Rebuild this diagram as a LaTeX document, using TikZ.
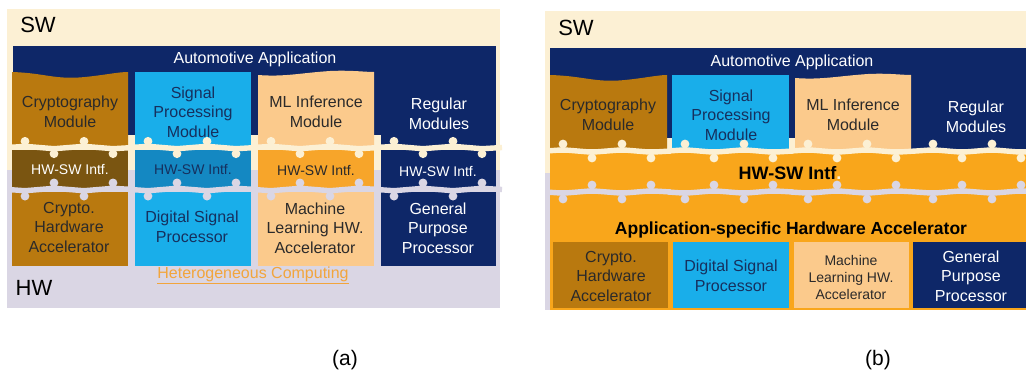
\documentclass[tikz,border=0pt]{standalone}
\usepackage{fontspec}
\setmainfont{Liberation Sans}

\definecolor{swbg}{HTML}{FCF0D4}
\definecolor{hwbg}{HTML}{DAD6E4}
\definecolor{navy}{HTML}{0E2768}
\definecolor{cryptoC}{HTML}{B9790F}
\definecolor{cryptoI}{HTML}{7A5511}
\definecolor{sigC}{HTML}{19AEEA}
\definecolor{sigI}{HTML}{1488C2}
\definecolor{mlC}{HTML}{FBCA8C}
\definecolor{mlI}{HTML}{F7A52A}
\definecolor{accel}{HTML}{F9A61B}
\definecolor{hetero}{HTML}{F2A53C}
\definecolor{darktxt}{HTML}{2B2A2A}
\definecolor{sigtxt}{HTML}{16305E}

\newcommand\fs[2]{\fontsize{#1}{#2}\selectfont}

% one jigsaw seam under a column: left x, seam y, colour, side of the first knob (-1 up, 1 down), knob offset
\newcommand\puzzle[5]{%
  \draw[#3, line width=5.4pt, line join=round]
    (#1-4,#2) -- (#1+13,{#2+(#4)*1.2}) -- (#1+42,{#2-(#4)*1.2})
    -- (#1+72,{#2+(#4)*1.2}) -- (#1+101,{#2-(#4)*1.2}) -- (#1+121,#2);
  \foreach \kx/\ks in {13/1,42/-1,72/1,101/-1} {
    \fill[#3] ({#1+\kx-2.2},#2) rectangle ({#1+\kx+2.2},{#2+(#4)*\ks*(#5-2)});
    \fill[#3] ({#1+\kx},{#2+(#4)*\ks*#5}) circle (4.4pt);
  }}
% the flat seam band running right across a panel
\newcommand\seamband[4]{\fill[#4] (#1,#3-2) rectangle (#2,#3+2);}

\tikzset{
  lab/.style={align=center, inner sep=0pt, font=\fs{16}{19.5}, text=darktxt},
  labw/.style={lab, text=white},
  labs/.style={lab, text=sigtxt},
  intf/.style={align=center, inner sep=0pt, font=\fs{14}{16}},
  big/.style={inner sep=0pt, font=\fs{22}{24}, text=black},
  captxt/.style={inner sep=0pt, font=\fs{21}{24}, text=black},
}

\begin{document}
\begin{tikzpicture}[x=1pt,y=-1pt]
\useasboundingbox (0,0) rectangle (1026,376);
\fill[white] (0,0) rectangle (1026,376);

% ---------------- panel (a): heterogeneous computing ----------------
\fill[swbg] (7,9) rectangle (500,170);
\fill[hwbg] (7,170) rectangle (500,308);
\fill[navy] (13,46) rectangle (496,135);
\fill[navy] (381,70) rectangle (496,266);

% cryptography column
\fill[cryptoC] (12,72) .. controls (45,73) and (55,80) .. (85,77)
  .. controls (105,75) and (118,72) .. (128,72) -- (128,147.5) -- (12,147.5) -- cycle;
\fill[cryptoI] (12,147.5) rectangle (128,189.5);
\fill[cryptoC] (12,189.5) rectangle (128,266);
% signal processing column
\fill[sigC] (135,72) rectangle (251,147.5);
\fill[sigI] (135,147.5) rectangle (251,189.5);
\fill[sigC] (135,189.5) rectangle (251,266);
% machine learning column
\fill[mlC] (258,75) .. controls (285,77) and (300,73) .. (330,71)
  .. controls (350,70) and (365,72) .. (374,72) -- (374,147.5) -- (258,147.5) -- cycle;
\fill[mlI] (258,147.5) rectangle (374,189.5);
\fill[mlC] (258,189.5) rectangle (374,266);

% interface seams
\seamband{7}{500}{147.5}{swbg}
\seamband{12}{496}{189.5}{hwbg}
\foreach \base in {12,135,258,381} {
  \puzzle{\base}{147.5}{swbg}{-1}{6.2}
  \puzzle{\base}{189.5}{hwbg}{1}{6.6}
}

\node[big] (swa) at (38,25) {SW};
\node[big] (hwa) at (34,288) {HW};
\node[labw] (appa) at (255,59) {Automotive Application};

\node[lab]  (cryptoa) at (70,112)  {Cryptography\\Module};
\node[labs] (siga)    at (193,112) {Signal\\Processing\\Module};
\node[lab]  (mla)     at (316,112) {ML Inference\\Module};
\node[labw] (rega)    at (439,114) {Regular\\Modules};

\node[intf, text=white]  (ia1) at (70,169.5)  {HW-SW Intf.};
\node[intf, text=sigtxt] (ia2) at (193,169.5) {HW-SW Intf.};
\node[intf, text=darktxt](ia3) at (316,170) {HW-SW Intf.};
\node[intf, text=white]  (ia4) at (438,171) {HW-SW Intf.};

\node[lab]  (hwcra) at (69,227)  {Crypto.\\Hardware\\Accelerator};
\node[labs] (dspa)  at (192,227) {Digital Signal\\Processor};
\node[lab]  (mlhwa) at (315,228) {Machine\\Learning HW.\\Accelerator};
\node[labw] (gppa)  at (438,228) {General\\Purpose\\Processor};

\node[inner sep=0pt, font=\fs{16}{18}, text=hetero] (het) at (253,275)
  {\underline{Heterogeneous Computing}};

% ---------------- panel (b): application-specific accelerator ----------------
\fill[swbg] (545,11) rectangle (1026,173);
\fill[hwbg] (545,173) rectangle (1026,310);
\fill[navy] (550,48) rectangle (1026,138);
\fill[navy] (911,70) rectangle (1026,151);
\fill[accel] (550,151) rectangle (1026,310);

\fill[cryptoC] (550,75) .. controls (585,76) and (595,83) .. (625,80)
  .. controls (645,78) and (658,75) .. (667,75) -- (667,151) -- (550,151) -- cycle;
\fill[sigC] (672,75) rectangle (789,151);
\fill[mlC] (795,78) .. controls (822,80) and (838,76) .. (868,74)
  .. controls (888,73) and (902,75) .. (911,75) -- (911,151) -- (795,151) -- cycle;

\seamband{550}{1026}{151}{swbg}
\seamband{550}{1026}{192}{hwbg}
\foreach \base in {550,672,795,920} {
  \puzzle{\base}{151}{swbg}{-1}{7}
  \puzzle{\base}{192}{hwbg}{1}{7}
}

\fill[cryptoC] (553,242) rectangle (668,308);
\fill[sigC] (673,242) rectangle (789,308);
\fill[mlC] (794,242) rectangle (909,308);
\fill[navy] (913,242) rectangle (1026,308);

\node[big] (swb) at (576,28) {SW};
\node[labw] (appb) at (792,62) {Automotive Application};

\node[lab]  (cryptob) at (608,115) {Cryptography\\Module};
\node[labs] (sigb)    at (731,115) {Signal\\Processing\\Module};
\node[lab]  (mlb)     at (853,115) {ML Inference\\Module};
\node[labw] (regb)    at (976,117) {Regular\\Modules};

\node[inner sep=0pt, font=\bfseries\fs{18}{20}, text=black] (intfb) at (790,173)
  {HW-SW Intf\textcolor{swbg}{.}};
\node[inner sep=0pt, font=\bfseries\fs{17.5}{20}, text=black] (asha) at (791,230)
  {Application-specific Hardware Accelerator};

\node[lab]  (hwcrb) at (611,276) {Crypto.\\Hardware\\Accelerator};
\node[labs] (dspb)  at (731,276) {Digital Signal\\Processor};
\node[lab, font=\fs{14}{17}] (mlhwb) at (851,277) {Machine\\Learning HW.\\Accelerator};
\node[labw] (gppb)  at (971,276) {General\\Purpose\\Processor};

% ---------------- captions ----------------
\node[captxt] (capa) at (345,360) {(a)};
\node[captxt] (capb) at (878,360) {(b)};
\end{tikzpicture}
\end{document}
